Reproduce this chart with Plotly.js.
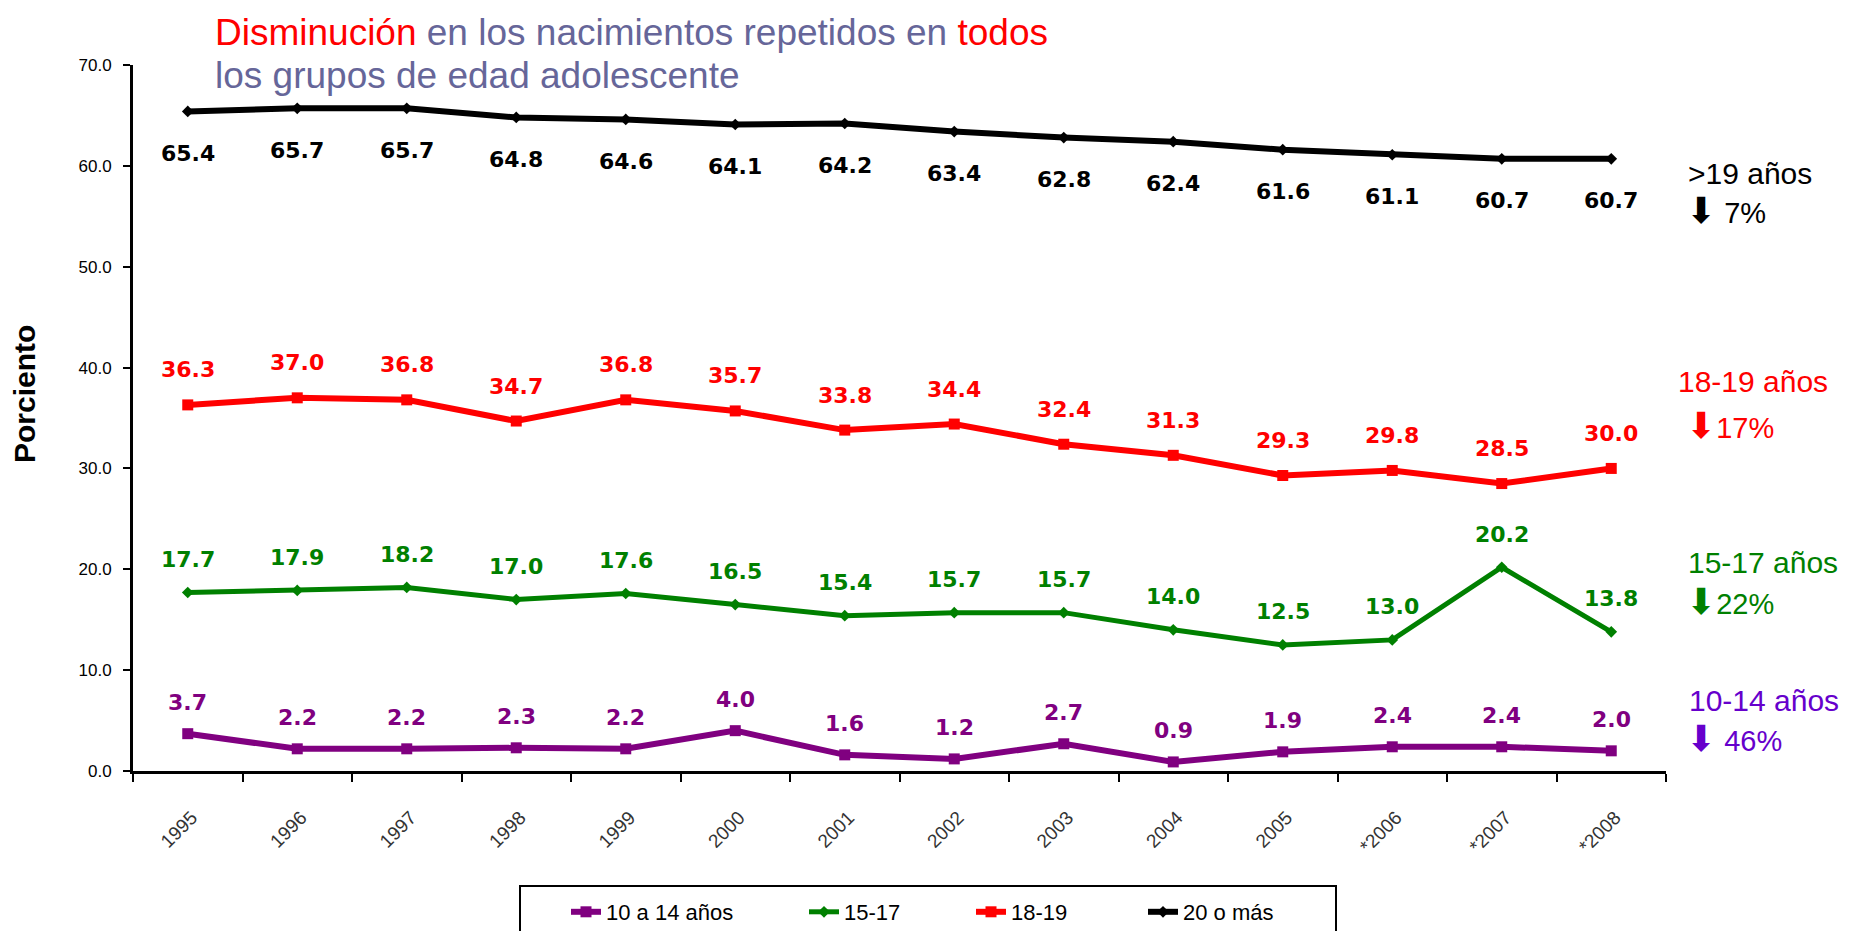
<!DOCTYPE html>
<html>
<head>
<meta charset="utf-8">
<script src="https://cdn.plot.ly/plotly-3.0.1.min.js"></script>
<style>
html,body{margin:0;padding:0;background:#fff;}
#chart{width:1849px;height:931px;}
</style>
</head>
<body>
<div id="chart"></div>
<script>
// ---- data ----
const years = ['1995','1996','1997','1998','1999','2000','2001','2002','2003','2004','2005','*2006','*2007','*2008'];
const seriesNames = ['10 a 14 años','15-17','18-19','20 o más'];
const age10_14 = [3.7, 2.2, 2.2, 2.3, 2.2, 4.0, 1.6, 1.2, 2.7, 0.9, 1.9, 2.4, 2.4, 2.0];
const age15_17 = [17.7, 17.9, 18.2, 17.0, 17.6, 16.5, 15.4, 15.7, 15.7, 14.0, 12.5, 13.0, 20.2, 13.8];
const age18_19 = [36.3, 37.0, 36.8, 34.7, 36.8, 35.7, 33.8, 34.4, 32.4, 31.3, 29.3, 29.8, 28.5, 30.0];
const age20plus = [65.4, 65.7, 65.7, 64.8, 64.6, 64.1, 64.2, 63.4, 62.8, 62.4, 61.6, 61.1, 60.7, 60.7];
const sideLabels = ['>19 años', '18-19 años', '15-17 años', '10-14 años'];
const sideChanges = [' 7%', '17%', '22%', ' 46%'];

// ---- styles ----
const ARIAL = 'Liberation Sans, Arial, sans-serif';
const VERD = 'DejaVu Sans, Verdana, sans-serif';
const C = {purple:'#800080', green:'#008000', red:'#ff0000', black:'#000000', violet:'#6600cc', title:'#666699'};

const series = [
  {name: seriesNames[0], y: age10_14, color: C.purple, symbol: 'square', size: 11, width: 6, shift: 31, lw: 193},
  {name: seriesNames[1], y: age15_17, color: C.green, symbol: 'diamond', size: 9, width: 5, shift: 33, lw: 122},
  {name: seriesNames[2], y: age18_19, color: C.red, symbol: 'square', size: 11, width: 6, shift: 35, lw: 127},
  {name: seriesNames[3], y: age20plus, color: C.black, symbol: 'diamond', size: 9, width: 6, shift: -42, lw: 150}
];

const traces = series.map(s => ({
  type: 'scatter', mode: 'lines+markers', name: s.name,
  x: years, y: s.y,
  line: {color: s.color, width: s.width},
  marker: {color: s.color, symbol: s.symbol, size: s.size},
  legendwidth: s.lw
}));

const annotations = [];
series.forEach(s => {
  s.y.forEach((v, i) => {
    annotations.push({
      x: i, y: v, xref: 'x', yref: 'y',
      text: '<b>' + v.toFixed(1) + '</b>', showarrow: false,
      yshift: s.shift, font: {family: VERD, size: 22, color: s.color}
    });
  });
});

// plot area in px: x 133..1666, y 65..771
const W = 1849, H = 931;
const L = 133, R = 1666, T = 65, B = 771;
const px = x => (x - L) / (R - L);
const py = y => (B - y) / (B - T);

// title (two lines)
annotations.push({
  xref: 'paper', yref: 'paper', x: px(213), y: py(32), xanchor: 'left', yanchor: 'middle',
  showarrow: false, font: {family: ARIAL, size: 37, color: C.title},
  text: '<span style="color:#ff0000">Disminución</span> en los nacimientos repetidos en <span style="color:#ff0000">todos</span>'
});
annotations.push({
  xref: 'paper', yref: 'paper', x: px(213), y: py(75), xanchor: 'left', yanchor: 'middle',
  showarrow: false, font: {family: ARIAL, size: 37, color: C.title},
  text: 'los grupos de edad adolescente'
});

// y axis title
annotations.push({
  xref: 'paper', yref: 'paper', x: px(25), y: py(394), xanchor: 'center', yanchor: 'middle',
  showarrow: false, textangle: -90, font: {family: ARIAL, size: 30, color: '#000'},
  text: '<b>Porciento</b>'
});

// right side notes
const sideColors = [C.black, C.red, C.green, C.violet];
const sideX1 = [1686, 1676, 1686, 1687];
const sideY1 = [173, 381, 562, 700];
const sideY2 = [210, 425, 601, 738];
sideLabels.forEach((t, i) => {
  annotations.push({
    xref: 'paper', yref: 'paper', x: px(sideX1[i]), y: py(sideY1[i]), xanchor: 'left', yanchor: 'middle',
    showarrow: false, font: {family: ARIAL, size: 30, color: sideColors[i]}, text: t
  });
  annotations.push({
    xref: 'paper', yref: 'paper', x: px(1684), y: py(sideY2[i]), xanchor: 'left', yanchor: 'middle',
    showarrow: false, font: {family: ARIAL, size: 29, color: sideColors[i]},
    text: '<span style="font-family:DejaVu Sans;font-size:36px">⬇</span>' + sideChanges[i]
  });
});

const layout = {
  width: W, height: H,
  margin: {l: L, r: W - R, t: T, b: H - B},
  paper_bgcolor: '#fff', plot_bgcolor: '#fff',
  showlegend: true,
  legend: {
    orientation: 'h', xref: 'paper', yref: 'container',
    x: px(566), y: 1 - 912 / H, xanchor: 'left', yanchor: 'middle',
    font: {family: ARIAL, size: 22, color: '#000'}, bgcolor: 'rgba(0,0,0,0)', borderwidth: 0,
    traceorder: 'normal'
  },
  xaxis: {
    type: 'category', categoryorder: 'array', categoryarray: years,
    range: [-0.5, 13.5], tickson: 'boundaries', ticks: 'outside', ticklen: 8, tickwidth: 2, tickcolor: '#000',
    showline: true, linecolor: '#000', linewidth: 3, showgrid: false, zeroline: false,
    tickangle: -45, tickfont: {family: ARIAL, size: 19, color: '#333'},
    ticklabelshift: 4, ticklabelstandoff: 25, automargin: false, fixedrange: true
  },
  yaxis: {
    range: [0, 70], dtick: 10, tick0: 0, tickformat: '.1f',
    ticks: 'outside', ticklen: 7, tickwidth: 2, tickcolor: '#000',
    showline: true, linecolor: '#000', linewidth: 3, showgrid: false, zeroline: false,
    tickfont: {family: ARIAL, size: 17, color: '#000'}, ticklabelstandoff: 8, automargin: false, fixedrange: true
  },
  shapes: [{
    type: 'rect', xref: 'paper', yref: 'paper',
    x0: px(520), x1: px(1336), y0: py(886), y1: py(960),
    line: {color: '#000', width: 2}, fillcolor: 'rgba(0,0,0,0)', layer: 'below'
  }],
  annotations: annotations
};

Plotly.newPlot('chart', traces, layout, {displayModeBar: false, staticPlot: true});
</script>
</body>
</html>
